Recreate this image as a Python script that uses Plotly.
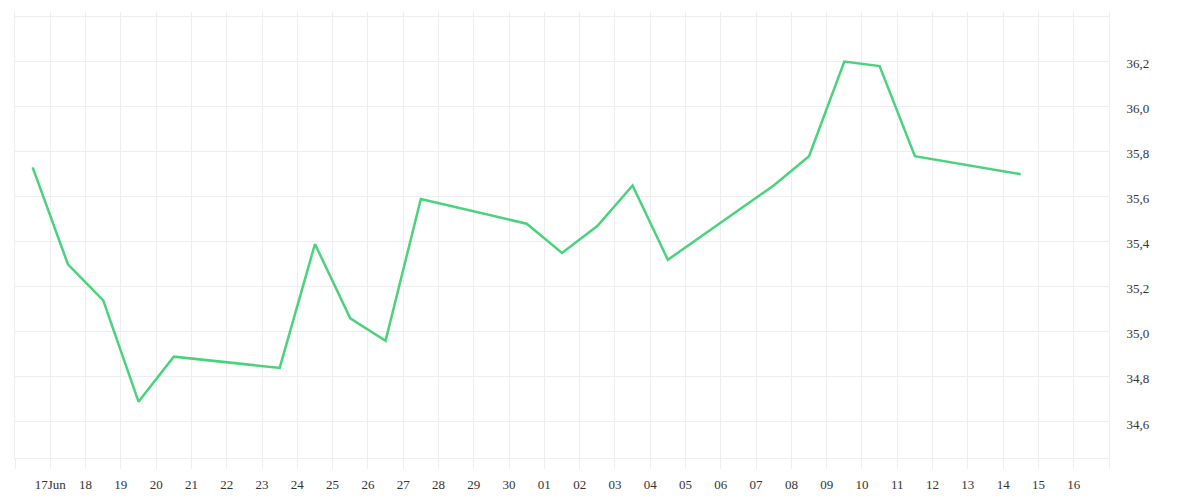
import pandas as pd
import plotly.graph_objects as go

# daily closes (weekdays only), plotted at mid-day
dates = [
    '2025-06-16', '2025-06-17', '2025-06-18', '2025-06-19', '2025-06-20',
    '2025-06-23', '2025-06-24', '2025-06-25', '2025-06-26', '2025-06-27',
    '2025-06-30', '2025-07-01', '2025-07-02', '2025-07-03', '2025-07-04',
    '2025-07-07', '2025-07-08', '2025-07-09', '2025-07-10', '2025-07-11',
    '2025-07-14'
]
values = [
    35.73, 35.30, 35.14, 34.69, 34.89,
    34.84, 35.39, 35.06, 34.96, 35.59,
    35.48, 35.35, 35.47, 35.65, 35.32,
    35.65, 35.78, 36.20, 36.18, 35.78,
    35.70
]

x_tick_days = pd.date_range('2025-06-16', '2025-07-17', freq='D')
x_tick_text = [''] + ['17Jun'] + [d.strftime('%d') for d in x_tick_days[2:-1]] + ['']

y_tick_vals = [34.6, 34.8, 35.0, 35.2, 35.4, 35.6, 35.8, 36.0, 36.2, 36.4]
y_tick_text = ['34,6', '34,8', '35,0', '35,2', '35,4', '35,6', '35,8', '36,0', '36,2', '']

GRID = '#eeeeee'
FONT = dict(family='Liberation Serif', size=13, color='#333333')

x_points = pd.to_datetime(dates) + pd.Timedelta(hours=12)

fig = go.Figure()
fig.add_trace(go.Scatter(
    x=x_points, y=values, mode='lines',
    line=dict(color='#4ad27c', width=2.5),
    hoverinfo='x+y'
))

# page body has an 8px margin, so the figure is sized to fit inside it
fig.update_layout(
    width=1184, height=484,
    margin=dict(l=7, r=83, t=4, b=34),
    paper_bgcolor='white', plot_bgcolor='white',
    showlegend=False, font=FONT,
    xaxis=dict(
        type='date', range=['2025-06-16', '2025-07-17'],
        tickmode='array', tickvals=x_tick_days, ticktext=x_tick_text,
        showgrid=True, gridcolor=GRID, gridwidth=1,
        showline=True, linecolor=GRID, linewidth=1,
        ticks='outside', ticklen=10, tickcolor=GRID,
        ticklabelstandoff=4, tickfont=FONT, zeroline=False,
        automargin=False
    ),
    yaxis=dict(
        side='right', range=[34.44, 36.42],
        tickmode='array', tickvals=y_tick_vals, ticktext=y_tick_text,
        showgrid=True, gridcolor=GRID, gridwidth=1,
        showline=True, linecolor=GRID, linewidth=1, mirror=True,
        ticks='', ticklabelstandoff=14, ticklabelshift=2,
        tickfont=FONT, zeroline=False, automargin=False
    )
)

fig.write_html("out.html")
